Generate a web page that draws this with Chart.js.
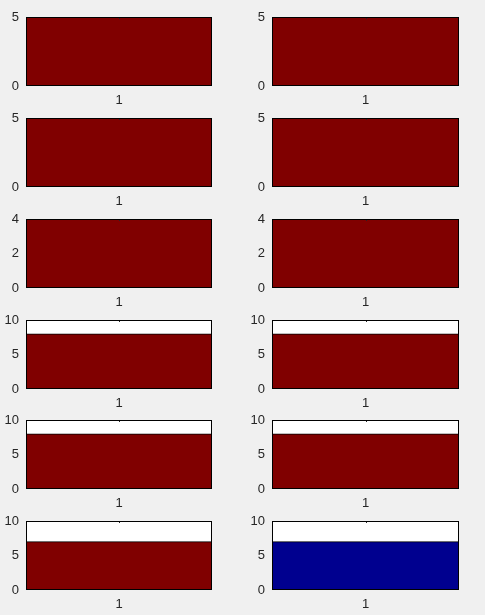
<!DOCTYPE html>
<html>
<head>
<meta charset="utf-8">
<script src="https://cdn.jsdelivr.net/npm/chart.js@4/dist/chart.umd.min.js"></script>
<style>
  html, body { margin: 0; padding: 0; background: #f0f0f0; }
  #wrap { position: relative; width: 485px; height: 615px; overflow: hidden; }
  canvas { position: absolute; }
</style>
</head>
<body>
<div id="wrap"></div>
<script>
// ---- data ----
const categories = ['1'];
const barValues = [5, 5, 5, 5, 4, 4, 8, 8, 8, 8, 7, 7];
const yMax = [5, 5, 5, 5, 4, 4, 10, 10, 10, 10, 10, 10];
const yStep = [5, 5, 5, 5, 2, 2, 5, 5, 5, 5, 5, 5];
const barColors = ['#800000', '#800000', '#800000', '#800000', '#800000', '#800000',
                   '#800000', '#800000', '#800000', '#800000', '#800000', '#00008f'];

// ---- layout (subplot grid) ----
const colLeft = [26, 272];
const colWidth = [186, 187];
const rowTops = [17, 118, 219, 320, 420, 521];
const boxH = 69;
const padL = 30, padT = 20, padR = 12, padB = 26;

const boxPlugin = {
  id: 'box',
  beforeDraw(chart) {
    const a = chart.chartArea, c = chart.ctx;
    c.save();
    c.fillStyle = '#ffffff';
    c.fillRect(a.left, a.top, a.right - a.left, a.bottom - a.top);
    c.restore();
  },
  afterDraw(chart) {
    const a = chart.chartArea, c = chart.ctx;
    c.save();
    const xs = chart.scales.x;
    const tx = Math.round(xs.getPixelForValue(0)) + 0.5;
    c.strokeStyle = '#262626';
    c.lineWidth = 1;
    c.beginPath();
    c.moveTo(tx, a.top);
    c.lineTo(tx, a.top + 2);
    c.stroke();
    c.strokeStyle = '#000000';
    c.strokeRect(Math.round(a.left) + 0.5, Math.round(a.top) + 0.5,
                 Math.round(a.right - a.left) - 1, Math.round(a.bottom - a.top) - 1);
    c.restore();
  }
};

const wrap = document.getElementById('wrap');
for (let i = 0; i < 12; i++) {
  const col = i % 2, row = Math.floor(i / 2);
  const top = rowTops[row];
  const cv = document.createElement('canvas');
  const w = padL + colWidth[col] + padR;
  const h = padT + boxH + padB;
  cv.width = w; cv.height = h;
  cv.style.left = (colLeft[col] - padL) + 'px';
  cv.style.top = (top - padT) + 'px';
  cv.style.width = w + 'px'; cv.style.height = h + 'px';
  wrap.appendChild(cv);
  new Chart(cv, {
    type: 'bar',
    data: {
      labels: categories,
      datasets: [{
        data: [barValues[i]],
        backgroundColor: barColors[i],
        borderColor: '#000000',
        borderWidth: 1,
        borderSkipped: false,
        barPercentage: 1,
        categoryPercentage: 1
      }]
    },
    options: {
      responsive: false,
      animation: false,
      devicePixelRatio: 1,
      layout: { padding: { left: 0, top: padT, right: padR, bottom: 0 } },
      plugins: { legend: { display: false }, tooltip: { enabled: false } },
      scales: {
        x: {
          offset: true,
          grid: { display: false, drawTicks: false },
          border: { display: false },
          ticks: { color: '#262626', font: { family: 'Liberation Sans, Arial', size: 13 }, padding: 7 },
          afterFit(s) { s.height = padB; }
        },
        y: {
          min: 0, max: yMax[i],
          grid: { display: false, drawTicks: false },
          border: { display: false },
          ticks: { stepSize: yStep[i], color: '#262626', font: { family: 'Liberation Sans, Arial', size: 13 }, padding: 7 },
          afterFit(s) { s.width = padL; }
        }
      }
    },
    plugins: [boxPlugin]
  });
}
</script>
</body>
</html>
